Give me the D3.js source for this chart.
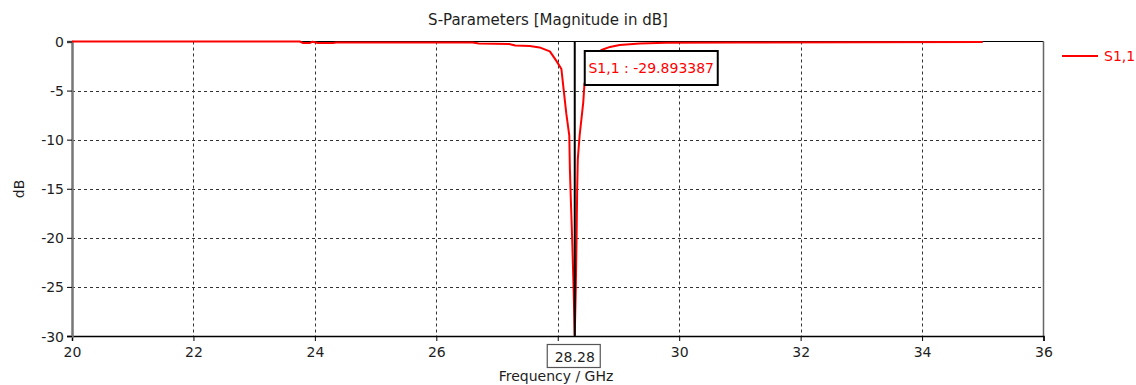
<!DOCTYPE html>
<html>
<head>
<meta charset="utf-8">
<script src="https://cdn.jsdelivr.net/npm/d3@7"></script>
<style>
  html, body { margin: 0; padding: 0; background: #fff; }
  svg { display: block; font-family: "DejaVu Sans", sans-serif; }
</style>
</head>
<body>
<svg id="chart" width="1136" height="385"></svg>
<script>
// ---- data ----
const freqGHz = [20, 23.75, 23.8, 23.92, 23.96, 24.05, 24.3, 24.35, 25.5, 26.6, 26.7, 27.2, 27.3, 27.54, 27.7, 27.87,
  27.98, 28.06, 28.09, 28.14, 28.19, 28.2, 28.215, 28.24, 28.26, 28.28,
  28.296, 28.31, 28.32, 28.33, 28.36, 28.42, 28.44, 28.53, 28.61, 28.72, 28.86, 29.02, 29.35, 29.79, 31, 33, 35];
const s11dB = [0, 0, -0.15, -0.15, -0.02, -0.15, -0.15, -0.1, -0.1, -0.1, -0.2, -0.25, -0.4, -0.45, -0.6, -1.0,
  -2.0, -2.8, -4.5, -7.3, -9.6, -13, -16, -20.6, -25, -29.893387,
  -25.5, -20, -15, -12, -9.6, -6.2, -4.3, -2.5, -1.5, -0.87, -0.55, -0.35, -0.2, -0.12, -0.1, -0.08, -0.05];
const xTicks = [20, 22, 24, 26, 28, 30, 32, 34, 36];
const yTicks = [0, -5, -10, -15, -20, -25, -30];
const markerFreq = 28.28;
const markerLabel = "28.28";
const markerText = "S1,1 : -29.893387";
const seriesName = "S1,1";
const titleText = "S-Parameters [Magnitude in dB]";
const xLabel = "Frequency / GHz";
const yLabel = "dB";

// ---- layout ----
const svg = d3.select("#chart");
const L = 72, R = 1043.5, T = 41.5, B = 336;
const x = d3.scaleLinear().domain([20, 36]).range([L, R]);
const y = d3.scaleLinear().domain([-30, 0]).range([B, T]);
const textCol = "#1e1e1e";
const fmt = d => String(d);  // plain hyphen-minus like the original

// gridlines
svg.append("g").selectAll("line").data(xTicks.slice(1, -1)).join("line")
  .attr("x1", d => Math.round(x(d)) + 0.5).attr("x2", d => Math.round(x(d)) + 0.5)
  .attr("y1", T).attr("y2", B)
  .attr("stroke", "#333").attr("stroke-width", 1).attr("stroke-dasharray", "3,3");
svg.append("g").selectAll("line").data(yTicks.slice(1, -1)).join("line")
  .attr("x1", L).attr("x2", R)
  .attr("y1", d => Math.round(y(d)) + 0.5).attr("y2", d => Math.round(y(d)) + 0.5)
  .attr("stroke", "#333").attr("stroke-width", 1).attr("stroke-dasharray", "3,3");

// frame
svg.append("line").attr("x1", L).attr("x2", R).attr("y1", T).attr("y2", T).attr("stroke", "#000").attr("stroke-width", 1.2);
svg.append("line").attr("x1", R).attr("x2", R).attr("y1", T).attr("y2", B).attr("stroke", "#666").attr("stroke-width", 1.5);

// axes
const xAxis = d3.axisBottom(x).tickValues(xTicks).tickSize(5)
  .tickFormat(d => Math.abs(d - markerFreq) < 0.5 ? "" : fmt(d));
const gx = svg.append("g").attr("transform", `translate(0,${B})`).call(xAxis);
gx.select(".domain").attr("stroke", "#000").attr("stroke-width", 1.5);
gx.selectAll(".tick line").attr("stroke", "#000");
gx.selectAll(".tick text").attr("font-size", 14).attr("fill", textCol).attr("dy", "0.95em")
  .attr("font-family", "DejaVu Sans, sans-serif");

const yAxis = d3.axisLeft(y).tickValues(yTicks).tickSize(5).tickFormat(fmt);
const gy = svg.append("g").attr("transform", `translate(${L},0)`).call(yAxis);
gy.select(".domain").attr("stroke", "#777").attr("stroke-width", 2.5);
gy.selectAll(".tick line").attr("stroke", "#000");
gy.selectAll(".tick text").attr("font-size", 14).attr("fill", textCol).attr("dy", "0.36em")
  .attr("font-family", "DejaVu Sans, sans-serif");

// series
const line = d3.line().x((d, i) => x(freqGHz[i])).y(d => y(d));
svg.append("path").datum(s11dB).attr("d", line)
  .attr("fill", "none").attr("stroke", "#ff0000").attr("stroke-width", 2).attr("stroke-linejoin", "round");

// marker
const mx = x(markerFreq);
svg.append("line").attr("x1", mx).attr("x2", mx).attr("y1", T).attr("y2", B)
  .attr("stroke", "#000").attr("stroke-width", 2);

// marker label box (top)
svg.append("rect").attr("x", mx + 10).attr("y", 51).attr("width", 133).attr("height", 34)
  .attr("fill", "#fff").attr("stroke", "#000").attr("stroke-width", 2);
svg.append("text").attr("x", mx + 76.5).attr("y", 73).attr("text-anchor", "middle")
  .attr("font-size", 14).attr("fill", "#ff0000").text(markerText);

// marker x label box
svg.append("rect").attr("x", mx - 27.5).attr("y", 344.5).attr("width", 53).attr("height", 23)
  .attr("fill", "#fff").attr("stroke", "#555").attr("stroke-width", 1.2);
svg.append("text").attr("x", mx).attr("y", 361.5).attr("text-anchor", "middle").attr("font-size", 14)
  .attr("fill", textCol).text(markerLabel);

// title and axis labels
svg.append("text").attr("x", 548).attr("y", 25).attr("text-anchor", "middle").attr("font-size", 15)
  .attr("fill", textCol).text(titleText);
svg.append("text").attr("x", 556).attr("y", 381).attr("text-anchor", "middle").attr("font-size", 14)
  .attr("fill", textCol).text(xLabel);
svg.append("text").attr("transform", "translate(24,189) rotate(-90)").attr("text-anchor", "middle")
  .attr("font-size", 14).attr("fill", textCol).text(yLabel);

// legend
svg.append("line").attr("x1", 1062).attr("x2", 1098).attr("y1", 56).attr("y2", 56)
  .attr("stroke", "#ff0000").attr("stroke-width", 2);
svg.append("text").attr("x", 1104).attr("y", 61).attr("font-size", 14).attr("fill", "#ff0000").text(seriesName);
</script>
</body>
</html>
